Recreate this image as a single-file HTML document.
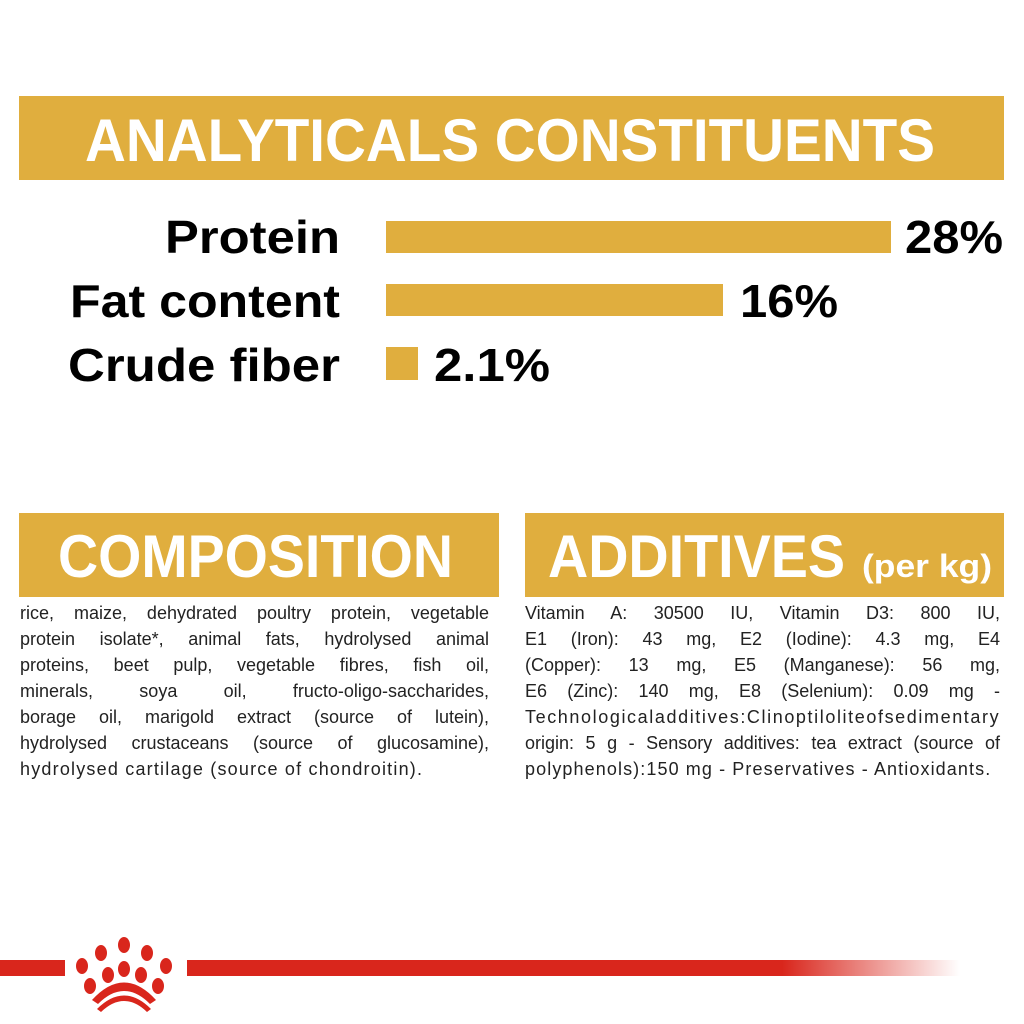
<!DOCTYPE html>
<html><head><meta charset="utf-8"><style>
html,body{margin:0;padding:0;background:#fff;width:1024px;height:1024px;overflow:hidden;position:relative}
svg{display:block;position:absolute;left:0;top:0}
.t{position:absolute;font-family:"Liberation Sans",sans-serif;font-size:18px;color:#222;line-height:26px}
.t div{text-align:justify;text-align-last:justify;white-space:nowrap;height:26px}
.t div.l{text-align-last:left}
</style></head><body>
<svg width="1024" height="1024" viewBox="0 0 1024 1024" xmlns="http://www.w3.org/2000/svg" font-family="Liberation Sans, sans-serif">
<defs>
<linearGradient id="fade" x1="0" x2="1" y1="0" y2="0">
<stop offset="0" stop-color="#d9261c"/>
<stop offset="0.77" stop-color="#d9261c"/>
<stop offset="1" stop-color="#d9261c" stop-opacity="0"/>
</linearGradient>
</defs>
<rect x="19" y="96" width="985" height="84" fill="#e0ae3e"/>
<text x="85" y="161" font-size="60" font-weight="bold" fill="#fff" textLength="850" lengthAdjust="spacingAndGlyphs">ANALYTICALS CONSTITUENTS</text>

<g font-weight="bold" fill="#000" font-size="46">
<text x="340" y="253" text-anchor="end" textLength="175" lengthAdjust="spacingAndGlyphs">Protein</text>
<text x="340" y="317" text-anchor="end" textLength="270" lengthAdjust="spacingAndGlyphs">Fat content</text>
<text x="340" y="381" text-anchor="end" textLength="272" lengthAdjust="spacingAndGlyphs">Crude fiber</text>
<text x="905" y="253" textLength="98" lengthAdjust="spacingAndGlyphs">28%</text>
<text x="740" y="317" textLength="98" lengthAdjust="spacingAndGlyphs">16%</text>
<text x="434" y="381" textLength="116" lengthAdjust="spacingAndGlyphs">2.1%</text>
</g>
<g fill="#e0ae3e">
<rect x="386" y="221" width="505" height="32"/>
<rect x="386" y="284" width="337" height="32"/>
<rect x="386" y="347" width="32" height="33"/>
</g>

<rect x="19" y="513" width="480" height="84" fill="#e0ae3e"/>
<text x="58" y="577" font-size="60" font-weight="bold" fill="#fff" textLength="395" lengthAdjust="spacingAndGlyphs">COMPOSITION</text>
<rect x="525" y="513" width="479" height="84" fill="#e0ae3e"/>
<text x="548" y="577" font-size="60" font-weight="bold" fill="#fff" textLength="297" lengthAdjust="spacingAndGlyphs">ADDITIVES</text>
<text x="862" y="577" font-size="32" font-weight="bold" fill="#fff" textLength="130" lengthAdjust="spacingAndGlyphs">(per kg)</text>

<rect x="0" y="960" width="65" height="16" fill="#d9261c"/>
<rect x="187" y="960" width="773" height="16" fill="url(#fade)"/>
<g fill="#d9261c">
<ellipse cx="101" cy="953" rx="6" ry="8"/>
<ellipse cx="124" cy="945" rx="6" ry="8"/>
<ellipse cx="147" cy="953" rx="6" ry="8"/>
<ellipse cx="82" cy="966" rx="6" ry="8"/>
<ellipse cx="166" cy="966" rx="6" ry="8"/>
<ellipse cx="108" cy="975" rx="6" ry="8"/>
<ellipse cx="124" cy="969" rx="6" ry="8"/>
<ellipse cx="141" cy="975" rx="6" ry="8"/>
<ellipse cx="90" cy="986" rx="6" ry="8"/>
<ellipse cx="158" cy="986" rx="6" ry="8"/>
<path d="M92 1000 Q124 965 156 1000 L150 1004 Q124 978 98 1004 Z"/>
<path d="M97 1009 Q124 982 151 1009 L147 1012 Q124 990 101 1012 Z"/>
</g>
</svg>
<div class="t" style="left:20px;top:600px;width:469px">
<div>rice, maize, dehydrated poultry protein, vegetable</div>
<div>protein isolate*, animal fats, hydrolysed animal</div>
<div>proteins, beet pulp, vegetable fibres, fish oil,</div>
<div>minerals, soya oil, fructo-oligo-saccharides,</div>
<div>borage oil, marigold extract (source of lutein),</div>
<div>hydrolysed crustaceans (source of glucosamine),</div>
<div class="l" style="letter-spacing:1.2px">hydrolysed cartilage (source of chondroitin).</div>
</div>
<div class="t" style="left:525px;top:600px;width:475px">
<div>Vitamin A: 30500 IU, Vitamin D3: 800 IU,</div>
<div>E1 (Iron): 43 mg, E2 (Iodine): 4.3 mg, E4</div>
<div>(Copper): 13 mg, E5 (Manganese): 56 mg,</div>
<div>E6 (Zinc): 140 mg, E8 (Selenium): 0.09 mg -</div>
<div class="l" style="letter-spacing:1.6px">Technologicaladditives:Clinoptiloliteofsedimentary</div>
<div>origin: 5 g - Sensory additives: tea extract (source of</div>
<div class="l" style="letter-spacing:1.1px">polyphenols):150 mg - Preservatives - Antioxidants.</div>
</div>
</body></html>
